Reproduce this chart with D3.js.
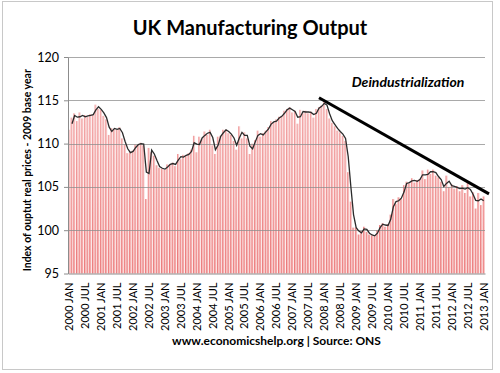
<!DOCTYPE html>
<html>
<head>
<meta charset="utf-8">
<script src="https://cdn.jsdelivr.net/npm/d3@7"></script>
<style>
  body { margin: 0; background: #fff; }
  svg { display: block; }
  text { font-family: Lato, "Open Sans", sans-serif; fill: #000; }
</style>
</head>
<body>
<svg width="500" height="373"></svg>
<script>
var WIDTH = 500
var HEIGHT = 373

// monthly categories 2000 JAN .. 2013 JAN
var monthNames = ["JAN", "FEB", "MAR", "APR", "MAY", "JUN", "JUL", "AUG", "SEP", "OCT", "NOV", "DEC"];
var years = d3.range(2000, 2014);
var months = [];
years.forEach(function (y) {
    monthNames.forEach(function (m) { months.push(y + " " + m); });
});
months = months.slice(0, 157);

// index of output (one value per month)
var output = [
    111.6, 113.0, 113.5, 112.6, 113.6, 112.9, 113.3, 113.1, 113.4, 113.3, 114.5, 114.0,
    113.9, 113.2, 112.8, 111.0, 111.8, 111.7, 111.6, 111.9, 110.6, 109.9, 108.9, 109.0,
    109.2, 109.9, 109.9, 110.1, 109.8, 103.6, 109.5, 109.0, 108.6, 107.5, 107.2, 107.1,
    107.0, 107.6, 107.6, 107.8, 107.4, 108.8, 108.2, 108.7, 108.6, 108.9, 109.3, 110.9,
    109.0, 110.8, 110.5, 111.4, 111.0, 111.6, 109.8, 108.8, 110.8, 110.9, 111.6, 111.6,
    111.2, 111.0, 110.3, 109.3, 112.0, 110.6, 111.3, 110.6, 108.8, 110.0, 110.4, 111.5,
    110.8, 111.2, 111.5, 111.9, 112.6, 112.4, 112.8, 113.1, 113.2, 113.8, 114.0, 114.2,
    113.6, 113.8, 112.3, 113.9, 113.5, 113.8, 113.5, 113.7, 113.0, 114.0, 114.2, 114.4,
    114.9, 114.0, 112.9, 112.4, 112.0, 111.5, 111.3, 110.9, 110.3, 106.7, 103.3, 100.3,
    100.3, 99.5, 99.9, 100.4, 99.8, 99.5, 99.4, 99.3, 100.0, 100.6, 100.8, 100.4,
    100.7, 101.8, 103.6, 103.0, 103.8, 103.6, 105.2, 105.6, 105.4, 106.0, 105.5, 105.8,
    105.9, 106.9, 105.9, 107.0, 106.5, 107.0, 106.3, 106.1, 105.6, 104.5, 106.3, 105.0,
    105.3, 104.8, 105.1, 104.5, 105.2, 104.3, 105.5, 103.9, 104.4, 102.5, 104.3, 102.9,
    103.9
];

var yTicks = [95, 100, 105, 110, 115, 120];
var xTickLabels = months.filter(function (m, i) { return i % 6 == 0; });

// hand drawn "deindustrialization" line: [month index, value]
var trendStart = [94, 115.3];
var trendEnd = [158, 104.2];

var margin = { left: 68, right: 15, top: 57, bottom: 99.5 };
var plotW = WIDTH - margin.left - margin.right;
var plotH = HEIGHT - margin.top - margin.bottom;

var svg = d3.select("svg");

// outer chart border
svg.append("rect")
    .attr("x", 2.5).attr("y", 1.5)
    .attr("width", 490).attr("height", 368)
    .attr("fill", "#fff")
    .attr("stroke", "#c8c8c8");

var defs = svg.append("defs");
var grad = defs.append("linearGradient")
    .attr("id", "barFill")
    .attr("x1", 0).attr("x2", 1).attr("y1", 0).attr("y2", 0);
grad.append("stop").attr("offset", "0%").attr("stop-color", "#e6595a");
grad.append("stop").attr("offset", "55%").attr("stop-color", "#f4a9a9");
grad.append("stop").attr("offset", "100%").attr("stop-color", "#fbe4e4");

// paler towards the top of the plot
var fade = defs.append("linearGradient")
    .attr("id", "fade")
    .attr("x1", 0).attr("x2", 0).attr("y1", 0).attr("y2", 1);
fade.append("stop").attr("offset", "0%").attr("stop-color", "#fff").attr("stop-opacity", 0.45);
fade.append("stop").attr("offset", "100%").attr("stop-color", "#fff").attr("stop-opacity", 0);

var g = svg.append("g").attr("transform", "translate(" + margin.left + "," + margin.top + ")");

var x = d3.scaleBand().domain(months).range([0, plotW]).paddingInner(0.15);
var xi = d3.scaleLinear().domain([0, months.length]).range([0, plotW]);
var y = d3.scaleLinear().domain([95, 120]).range([plotH, 0]);

// bars
g.selectAll("rect.bar")
    .data(output)
    .enter().append("rect")
    .attr("class", "bar")
    .attr("x", function (d, i) { return x(months[i]); })
    .attr("width", x.bandwidth())
    .attr("y", function (d) { return y(d); })
    .attr("height", function (d) { return plotH - y(d); })
    .attr("fill", "url(#barFill)");

g.append("rect")
    .attr("width", plotW).attr("height", plotH)
    .attr("fill", "url(#fade)");

// gridlines
g.selectAll("line.grid")
    .data(yTicks.slice(1))
    .enter().append("line")
    .attr("class", "grid")
    .attr("x1", 0).attr("x2", plotW)
    .attr("y1", function (d) { return Math.round(y(d)) + 0.5; })
    .attr("y2", function (d) { return Math.round(y(d)) + 0.5; })
    .attr("stroke", "#8c8c8c")
    .attr("stroke-opacity", 0.75);

// 2 period moving average (Excel trendline)
var ma = d3.range(1, output.length).map(function (i) {
    return [i, (output[i - 1] + output[i]) / 2];
});
g.append("path")
    .datum(ma)
    .attr("fill", "none")
    .attr("stroke", "#2b2b2b")
    .attr("stroke-width", 1.3)
    .attr("d", d3.line()
        .x(function (d) { return xi(d[0] + 0.5); })
        .y(function (d) { return y(d[1]); }));

// y axis
var yAxis = g.append("g")
    .call(d3.axisLeft(y).tickValues(yTicks).tickSize(4).tickSizeOuter(0));
yAxis.select(".domain").attr("stroke", "#8c8c8c");
yAxis.selectAll(".tick line").attr("stroke", "#8c8c8c");
yAxis.selectAll(".tick text")
    .attr("x", -9)
    .style("font-size", "12.5px")
    .style("font-family", "Lato, sans-serif");

// x axis
var xAxis = g.append("g")
    .attr("transform", "translate(0," + plotH + ")")
    .call(d3.axisBottom(x).tickValues(xTickLabels).tickSize(0).tickSizeOuter(0));
xAxis.select(".domain").attr("stroke", "#8c8c8c");
xAxis.selectAll(".tick text")
    .attr("transform", "rotate(-90)")
    .attr("text-anchor", "end")
    .attr("x", -9)
    .attr("y", 0)
    .attr("dy", "0.35em")
    .style("font-size", "11px")
    .style("font-family", "Lato, sans-serif");

// trend line
g.append("line")
    .attr("x1", xi(trendStart[0] + 0.5)).attr("y1", y(trendStart[1]))
    .attr("x2", xi(trendEnd[0] + 0.5)).attr("y2", y(trendEnd[1]))
    .attr("stroke", "#000")
    .attr("stroke-width", 3);

// texts
svg.append("text")
    .attr("x", 250).attr("y", 35)
    .attr("text-anchor", "middle")
    .style("font-size", "20px")
    .style("font-weight", "bold")
    .text("UK Manufacturing Output");

svg.append("text")
    .attr("transform", "translate(31," + (margin.top + plotH / 2 + 5) + ") rotate(-90)")
    .attr("text-anchor", "middle")
    .style("font-size", "10.5px")
    .style("font-weight", "bold")
    .text("Index of ouptut real prices - 2009 base year");

svg.append("text")
    .attr("x", 408).attr("y", 87)
    .attr("text-anchor", "middle")
    .style("font-size", "14px")
    .style("font-weight", "bold")
    .style("font-style", "italic")
    .text("Deindustrialization");

svg.append("text")
    .attr("x", margin.left + plotW / 2).attr("y", 345)
    .attr("text-anchor", "middle")
    .style("font-size", "12px")
    .style("font-weight", "bold")
    .text("www.economicshelp.org | Source: ONS");
</script>
</body>
</html>
